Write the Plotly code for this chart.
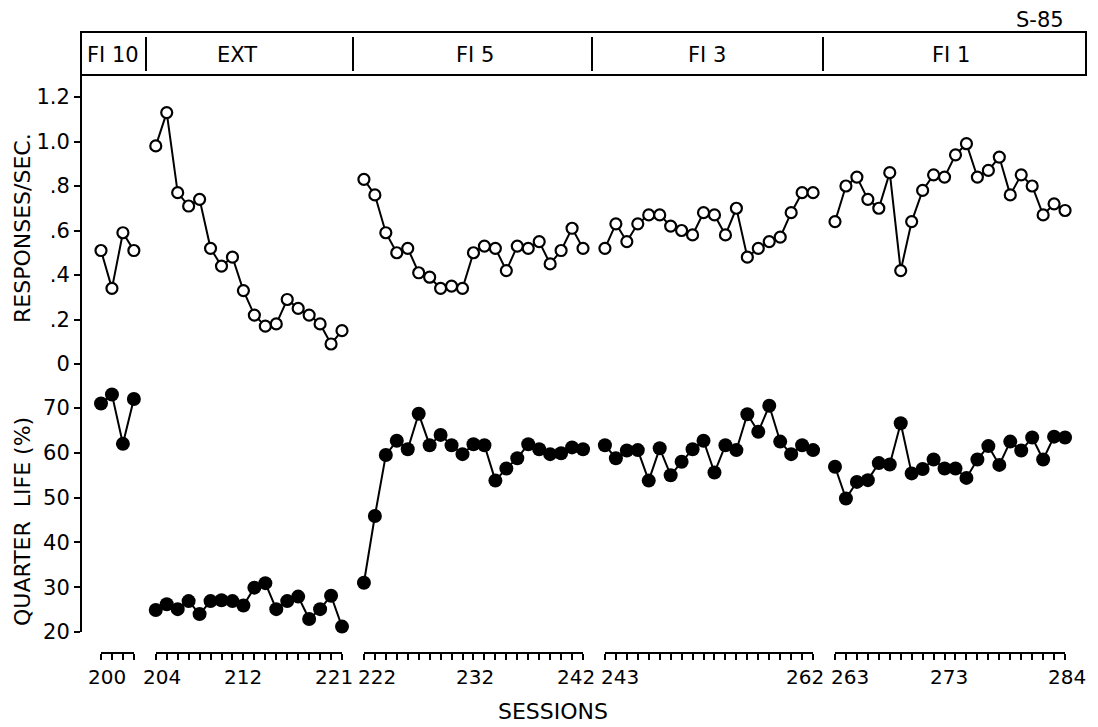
import plotly.graph_objects as go

# ---------------- data ----------------
phase_names = ["FI 10", "EXT", "FI 5", "FI 3", "FI 1"]
phase_first = [200, 204, 222, 243, 263]
phase_last = [203, 221, 242, 262, 284]

resp_fi10 = [0.51, 0.34, 0.59, 0.51]
resp_ext = [0.98, 1.13, 0.77, 0.71, 0.74, 0.52, 0.44, 0.48, 0.33, 0.22, 0.17, 0.18,
            0.29, 0.25, 0.22, 0.18, 0.09, 0.15]
resp_fi5 = [0.83, 0.76, 0.59, 0.50, 0.52, 0.41, 0.39, 0.34, 0.35, 0.34, 0.50, 0.53,
            0.52, 0.42, 0.53, 0.52, 0.55, 0.45, 0.51, 0.61, 0.52]
resp_fi3 = [0.52, 0.63, 0.55, 0.63, 0.67, 0.67, 0.62, 0.60, 0.58, 0.68, 0.67, 0.58,
            0.70, 0.48, 0.52, 0.55, 0.57, 0.68, 0.77, 0.77]
resp_fi1 = [0.64, 0.80, 0.84, 0.74, 0.70, 0.86, 0.42, 0.64, 0.78, 0.85, 0.84, 0.94,
            0.99, 0.84, 0.87, 0.93, 0.76, 0.85, 0.80, 0.67, 0.72, 0.69]

ql_fi10 = [71, 73, 62, 72]
ql_ext = [24.9, 26.2, 25.1, 26.9, 24.0, 26.9, 27.1, 26.9, 25.9, 29.9, 30.9, 25.1,
          26.9, 27.9, 22.9, 25.1, 28.1, 21.2]
ql_fi5 = [31.0, 45.9, 59.5, 62.7, 60.8, 68.7, 61.7, 64.0, 61.7, 59.7, 61.9, 61.7,
          53.8, 56.5, 58.8, 61.9, 60.8, 59.7, 59.9, 61.2, 60.8]
ql_fi3 = [61.7, 58.8, 60.5, 60.6, 53.8, 61.0, 55.0, 58.0, 60.8, 62.7, 55.6, 61.7,
          60.6, 68.6, 64.7, 70.5, 62.5, 59.7, 61.7, 60.6]
ql_fi1 = [56.9, 49.8, 53.5, 53.9, 57.7, 57.4, 66.6, 55.4, 56.4, 58.5, 56.5, 56.5,
          54.4, 58.5, 61.5, 57.3, 62.5, 60.5, 63.4, 58.5, 63.6, 63.4]

resp_series = [resp_fi10, resp_ext, resp_fi5, resp_fi3, resp_fi1]
ql_series = [ql_fi10, ql_ext, ql_fi5, ql_fi3, ql_fi1]

labeled_sessions = [200, 204, 212, 221, 222, 232, 242, 243, 262, 263, 273, 284]
resp_ticks = [0, 0.2, 0.4, 0.6, 0.8, 1.0, 1.2]
resp_ticktext = ["0", ".2", ".4", ".6", ".8", "1.0", "1.2"]
ql_ticks = [20, 30, 40, 50, 60, 70]
ql_ticktext = ["20", "30", "40", "50", "60", "70"]

# ---------------- layout geometry (page pixels) ----------------
OFF = 8                     # default body margin of the html page
W, H = 1098 - OFF, 727 - OFF
LEFT_X, RIGHT_X, TOP_Y, BASE_Y = 81, 1086, 32, 653   # page pixel positions
ML = LEFT_X - OFF
MR = 1098 - RIGHT_X
MT = TOP_Y - OFF
MB = 727 - BASE_Y
PW, PH = W - ML - MR, H - MT - MB
FONT = "DejaVu Sans"
BLACK = "#000000"


def pxx(X):
    return (X - LEFT_X) / PW


def pyy(Y):
    return (BASE_Y - Y) / PH


UNIT = 10.955          # px per session
X0 = 101               # page px of session 200


def sess_px(s, k):
    return X0 + (s - 200 + k) * UNIT


split = pyy(386)
top_plot = pyy(75)
bot_plot = pyy(632)

fig = go.Figure()

for k in range(5):
    xs = list(range(phase_first[k], phase_last[k] + 1))
    xa = "x" if k == 0 else f"x{k + 1}"
    fig.add_trace(go.Scatter(
        x=xs, y=resp_series[k], xaxis=xa, yaxis="y", mode="lines+markers",
        line=dict(color=BLACK, width=2),
        marker=dict(symbol="circle", size=11, color="white", line=dict(color=BLACK, width=2.2)),
        cliponaxis=False, showlegend=False, hoverinfo="x+y"))
    fig.add_trace(go.Scatter(
        x=xs, y=ql_series[k], xaxis=xa, yaxis="y2", mode="lines+markers",
        line=dict(color=BLACK, width=2),
        marker=dict(symbol="circle", size=14, color=BLACK, line=dict(width=0)),
        cliponaxis=False, showlegend=False, hoverinfo="x+y"))

layout = dict(
    width=W, height=H, autosize=False,
    margin=dict(l=ML, r=MR, t=MT, b=MB, pad=0),
    paper_bgcolor="white", plot_bgcolor="white",
    font=dict(family=FONT, color=BLACK, size=20),
    showlegend=False,
)

for k in range(5):
    key = "xaxis" if k == 0 else f"xaxis{k + 1}"
    d0 = pxx(sess_px(phase_first[k], k))
    d1 = pxx(sess_px(phase_last[k], k))
    layout[key] = dict(
        domain=[d0, d1], range=[phase_first[k], phase_last[k]],
        anchor="free", position=0,
        showline=True, linecolor=BLACK, linewidth=2,
        ticks="outside", ticklen=6, tickwidth=1.5, tickcolor=BLACK,
        tickmode="array", tickvals=list(range(phase_first[k], phase_last[k] + 1)),
        showticklabels=False, showgrid=False, zeroline=False, fixedrange=True,
    )

ycommon = dict(showline=True, linecolor=BLACK, linewidth=2, ticks="outside", ticklen=6,
               tickwidth=2, tickcolor=BLACK, showgrid=False, zeroline=False,
               tickfont=dict(family=FONT, size=21, color=BLACK), fixedrange=True)

resp_range = [-22 / 222.5, 1.2 + 22 / 222.5]
ql_range = [20, 70 + 22 / 4.48]

layout["yaxis"] = dict(domain=[split, top_plot], range=resp_range, anchor="free", position=0,
                       tickmode="array", tickvals=resp_ticks, ticktext=resp_ticktext, **ycommon)
layout["yaxis2"] = dict(domain=[bot_plot, split], range=ql_range, anchor="free", position=0,
                        tickmode="array", tickvals=ql_ticks, ticktext=ql_ticktext, **ycommon)
layout["yaxis3"] = dict(overlaying="y", side="right", anchor="free", position=1,
                        range=resp_range, tickmode="array", tickvals=resp_ticks,
                        showticklabels=False, **ycommon)
layout["yaxis4"] = dict(overlaying="y2", side="right", anchor="free", position=1,
                        range=ql_range, tickmode="array", tickvals=ql_ticks,
                        showticklabels=False, **ycommon)

fig.update_layout(**layout)

# header box and dividers
shapes = [
    dict(type="rect", xref="paper", yref="paper", x0=0, x1=1, y0=top_plot, y1=1,
         line=dict(color=BLACK, width=2), fillcolor="rgba(0,0,0,0)"),
    # small break on right axis near the bottom
    dict(type="line", xref="paper", yref="paper", x0=1, x1=1, y0=pyy(591.5), y1=pyy(596),
         line=dict(color="white", width=5), layer="above"),
]
for Xd in [146, 353, 592, 823]:
    shapes.append(dict(type="line", xref="paper", yref="paper", x0=pxx(Xd), x1=pxx(Xd),
                       y0=pyy(71), y1=pyy(37), line=dict(color=BLACK, width=2)))
fig.update_layout(shapes=shapes)

annotations = []
header_centers = [113, 237, 475, 707, 951]
for name, cx in zip(phase_names, header_centers):
    annotations.append(dict(text=name, xref="paper", yref="paper", x=pxx(cx), y=pyy(55),
                            xanchor="center", yanchor="middle", showarrow=False,
                            font=dict(family=FONT, size=21, color=BLACK)))

# session tick labels under each axis segment
label_shift = [6, 6, 0, -8, 13, 2, -7, 15, -8, 15, 4, 2]
for s, sh in zip(labeled_sessions, label_shift):
    k = max(i for i in range(5) if phase_first[i] <= s)
    xa = "x" if k == 0 else f"x{k + 1}"
    annotations.append(dict(text=str(s), xref=xa, yref="paper", x=s, y=pyy(677),
                            xanchor="center", yanchor="middle", xshift=sh, showarrow=False,
                            font=dict(family=FONT, size=20, color=BLACK)))

annotations += [
    dict(text="SESSIONS", xref="paper", yref="paper", x=pxx(553), y=pyy(711),
         xanchor="center", yanchor="middle", showarrow=False,
         font=dict(family=FONT, size=22, color=BLACK)),
    dict(text="RESPONSES/SEC.", xref="paper", yref="paper", x=pxx(23), y=pyy(228),
         xanchor="center", yanchor="middle", textangle=-90, showarrow=False,
         font=dict(family=FONT, size=22, color=BLACK)),
    dict(text="QUARTER  LIFE (%)", xref="paper", yref="paper", x=pxx(22), y=pyy(522),
         xanchor="center", yanchor="middle", textangle=-90, showarrow=False,
         font=dict(family=FONT, size=22, color=BLACK)),
    dict(text="S-85", xref="paper", yref="paper", x=pxx(1066), y=pyy(20),
         xanchor="right", yanchor="middle", showarrow=False,
         font=dict(family=FONT, size=21, color=BLACK)),
]
fig.update_layout(annotations=annotations)

fig.write_html("out.html", include_plotlyjs=True, config={"displayModeBar": False})
